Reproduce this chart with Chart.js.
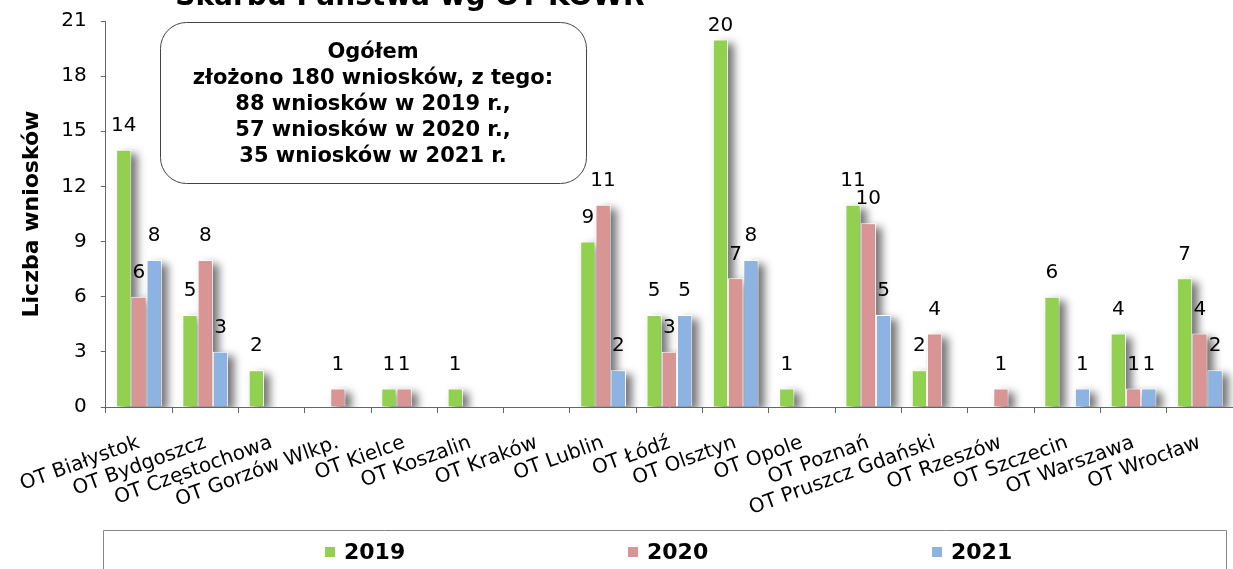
<!DOCTYPE html>
<html>
<head>
<meta charset="utf-8">
<script src="https://cdn.jsdelivr.net/npm/chart.js@4.4.1/dist/chart.umd.min.js"></script>
<style>
  html, body { margin: 0; padding: 0; background: #fff; }
</style>
</head>
<body>
<canvas id="chart" width="1233" height="569"></canvas>
<script>
const categories = [
  "OT Białystok", "OT Bydgoszcz", "OT Częstochowa", "OT Gorzów Wlkp.", "OT Kielce",
  "OT Koszalin", "OT Kraków", "OT Lublin", "OT Łódź", "OT Olsztyn", "OT Opole",
  "OT Poznań", "OT Pruszcz Gdański", "OT Rzeszów", "OT Szczecin", "OT Warszawa", "OT Wrocław"
];
const wnioski2019 = [14, 5, 2, 0, 1, 1, 0, 9, 5, 20, 1, 11, 2, 0, 6, 4, 7];
const wnioski2020 = [6, 8, 0, 1, 1, 0, 0, 11, 3, 7, 0, 10, 4, 1, 0, 1, 4];
const wnioski2021 = [8, 3, 0, 0, 0, 0, 0, 2, 5, 8, 0, 5, 0, 0, 1, 1, 2];
const years = ["2019", "2020", "2021"];
const yTicks = [0, 3, 6, 9, 12, 15, 18, 21];

const titleText = "Skarbu Państwa wg OT KOWR";
const summaryLines = [
  "Ogółem",
  "złożono 180 wniosków, z tego:",
  "88 wniosków w 2019 r.,",
  "57 wniosków w 2020 r.,",
  "35 wniosków w 2021 r."
];

const FONT = '"DejaVu Sans", Verdana, sans-serif';
const colors = ["#92D050", "#D99594", "#8DB3E2"];

// zero counts are left empty so no bar or label is drawn for them
const asBars = arr => arr.map(v => (v === 0 ? null : v));

// grey shadows are painted first, so neighbouring bars cover them
const barShadow = {
  id: "barShadow",
  beforeDatasetsDraw(chart) {
    const ctx = chart.ctx;
    const area = chart.chartArea;
    const far = 5000;
    ctx.save();
    ctx.beginPath();
    ctx.rect(area.left, area.top - 30, area.right - area.left, area.bottom - area.top + 30);
    ctx.clip();
    ctx.shadowColor = "rgba(0,0,0,0.55)";
    ctx.shadowBlur = 8;
    ctx.shadowOffsetX = 6 + far;
    ctx.shadowOffsetY = 4;
    ctx.fillStyle = "#000";
    chart.data.datasets.forEach((ds, i) => {
      chart.getDatasetMeta(i).data.forEach((bar, j) => {
        if (ds.data[j] == null) return;
        const { x, y, base, width } = bar.getProps(["x", "y", "base", "width"], true);
        ctx.fillRect(x - width / 2 - far, y, width, base - y);
      });
    });
    ctx.restore();
  }
};

// value above each bar (kept inside the plot at the top)
const valueLabels = {
  id: "valueLabels",
  afterDraw(chart) {
    const ctx = chart.ctx;
    const top = chart.chartArea.top;
    ctx.save();
    ctx.font = "20px " + FONT;
    ctx.fillStyle = "#000";
    ctx.textAlign = "center";
    ctx.textBaseline = "middle";
    chart.data.datasets.forEach((ds, i) => {
      chart.getDatasetMeta(i).data.forEach((bar, j) => {
        const v = ds.data[j];
        if (v == null) return;
        ctx.fillText(String(v), bar.x, Math.max(bar.y - 24, top + 5));
      });
    });
    ctx.restore();
  }
};

// title line, clipped by the top edge, the rounded summary box and the legend box
const extras = {
  id: "extras",
  afterDraw(chart) {
    const ctx = chart.ctx;
    ctx.save();
    ctx.fillStyle = "#000";
    ctx.textAlign = "center";
    ctx.textBaseline = "alphabetic";
    ctx.font = "bold 28px " + FONT;
    ctx.fillText(titleText, 410, 5);

    const bx = 160, by = 22, bw = 426, bh = 161;
    ctx.beginPath();
    ctx.roundRect(bx + 0.5, by + 0.5, bw, bh, 26);
    ctx.fillStyle = "#fff";
    ctx.fill();
    ctx.strokeStyle = "#444";
    ctx.lineWidth = 1;
    ctx.stroke();

    ctx.fillStyle = "#000";
    ctx.font = "bold 21px " + FONT;
    ctx.textBaseline = "middle";
    summaryLines.forEach((line, i) => {
      ctx.fillText(line, bx + bw / 2, 53 + i * 26);
    });

    ctx.beginPath();
    ctx.rect(103.5, 530.5, 1123, 60);
    ctx.strokeStyle = "#888";
    ctx.stroke();
    const itemX = [325, 628, 932];
    ctx.font = "bold 22px " + FONT;
    ctx.textAlign = "left";
    chart.data.datasets.forEach((ds, i) => {
      ctx.fillStyle = ds.backgroundColor;
      ctx.fillRect(itemX[i], 547, 10, 10);
      ctx.fillStyle = "#000";
      ctx.fillText(ds.label, itemX[i] + 19, 553);
    });
    ctx.restore();
  }
};

new Chart(document.getElementById("chart"), {
  type: "bar",
  data: {
    labels: categories,
    datasets: [wnioski2019, wnioski2020, wnioski2021].map((arr, i) => ({
      label: years[i],
      data: asBars(arr),
      backgroundColor: colors[i],
      borderColor: "#fff",
      borderWidth: 1,
      categoryPercentage: 0.69,
      barPercentage: 1.0
    }))
  },
  options: {
    responsive: false,
    animation: false,
    layout: { padding: { top: 21, right: -10, bottom: 0, left: 0 } },
    plugins: {
      legend: { display: false },
      tooltip: { enabled: false }
    },
    scales: {
      x: {
        grid: { display: true, drawOnChartArea: false, offset: true, tickLength: 6, color: "#666" },
        border: { color: "#666" },
        ticks: {
          autoSkip: false,
          minRotation: 20,
          maxRotation: 20,
          padding: 18,
          color: "#000",
          font: { family: FONT, size: 20 }
        },
        afterFit(scale) {
          scale.height = 162;
          scale.paddingTop = 0;
        }
      },
      y: {
        min: 0,
        max: 21,
        afterBuildTicks(scale) { scale.ticks = yTicks.map(v => ({ value: v })); },
        grid: { drawOnChartArea: false, tickLength: 5, color: "#666" },
        border: { color: "#666" },
        ticks: {
          padding: 14,
          color: "#000",
          font: { family: FONT, size: 20 }
        },
        title: {
          display: true,
          text: "Liczba wniosków",
          color: "#000",
          font: { family: FONT, size: 22, weight: "bold" },
          padding: { top: 17, bottom: 0 }
        },
        afterFit(scale) {
          scale.width = 104;
          scale.paddingTop = 10;
          scale.paddingBottom = 0;
        }
      }
    }
  },
  plugins: [barShadow, valueLabels, extras]
});
</script>
